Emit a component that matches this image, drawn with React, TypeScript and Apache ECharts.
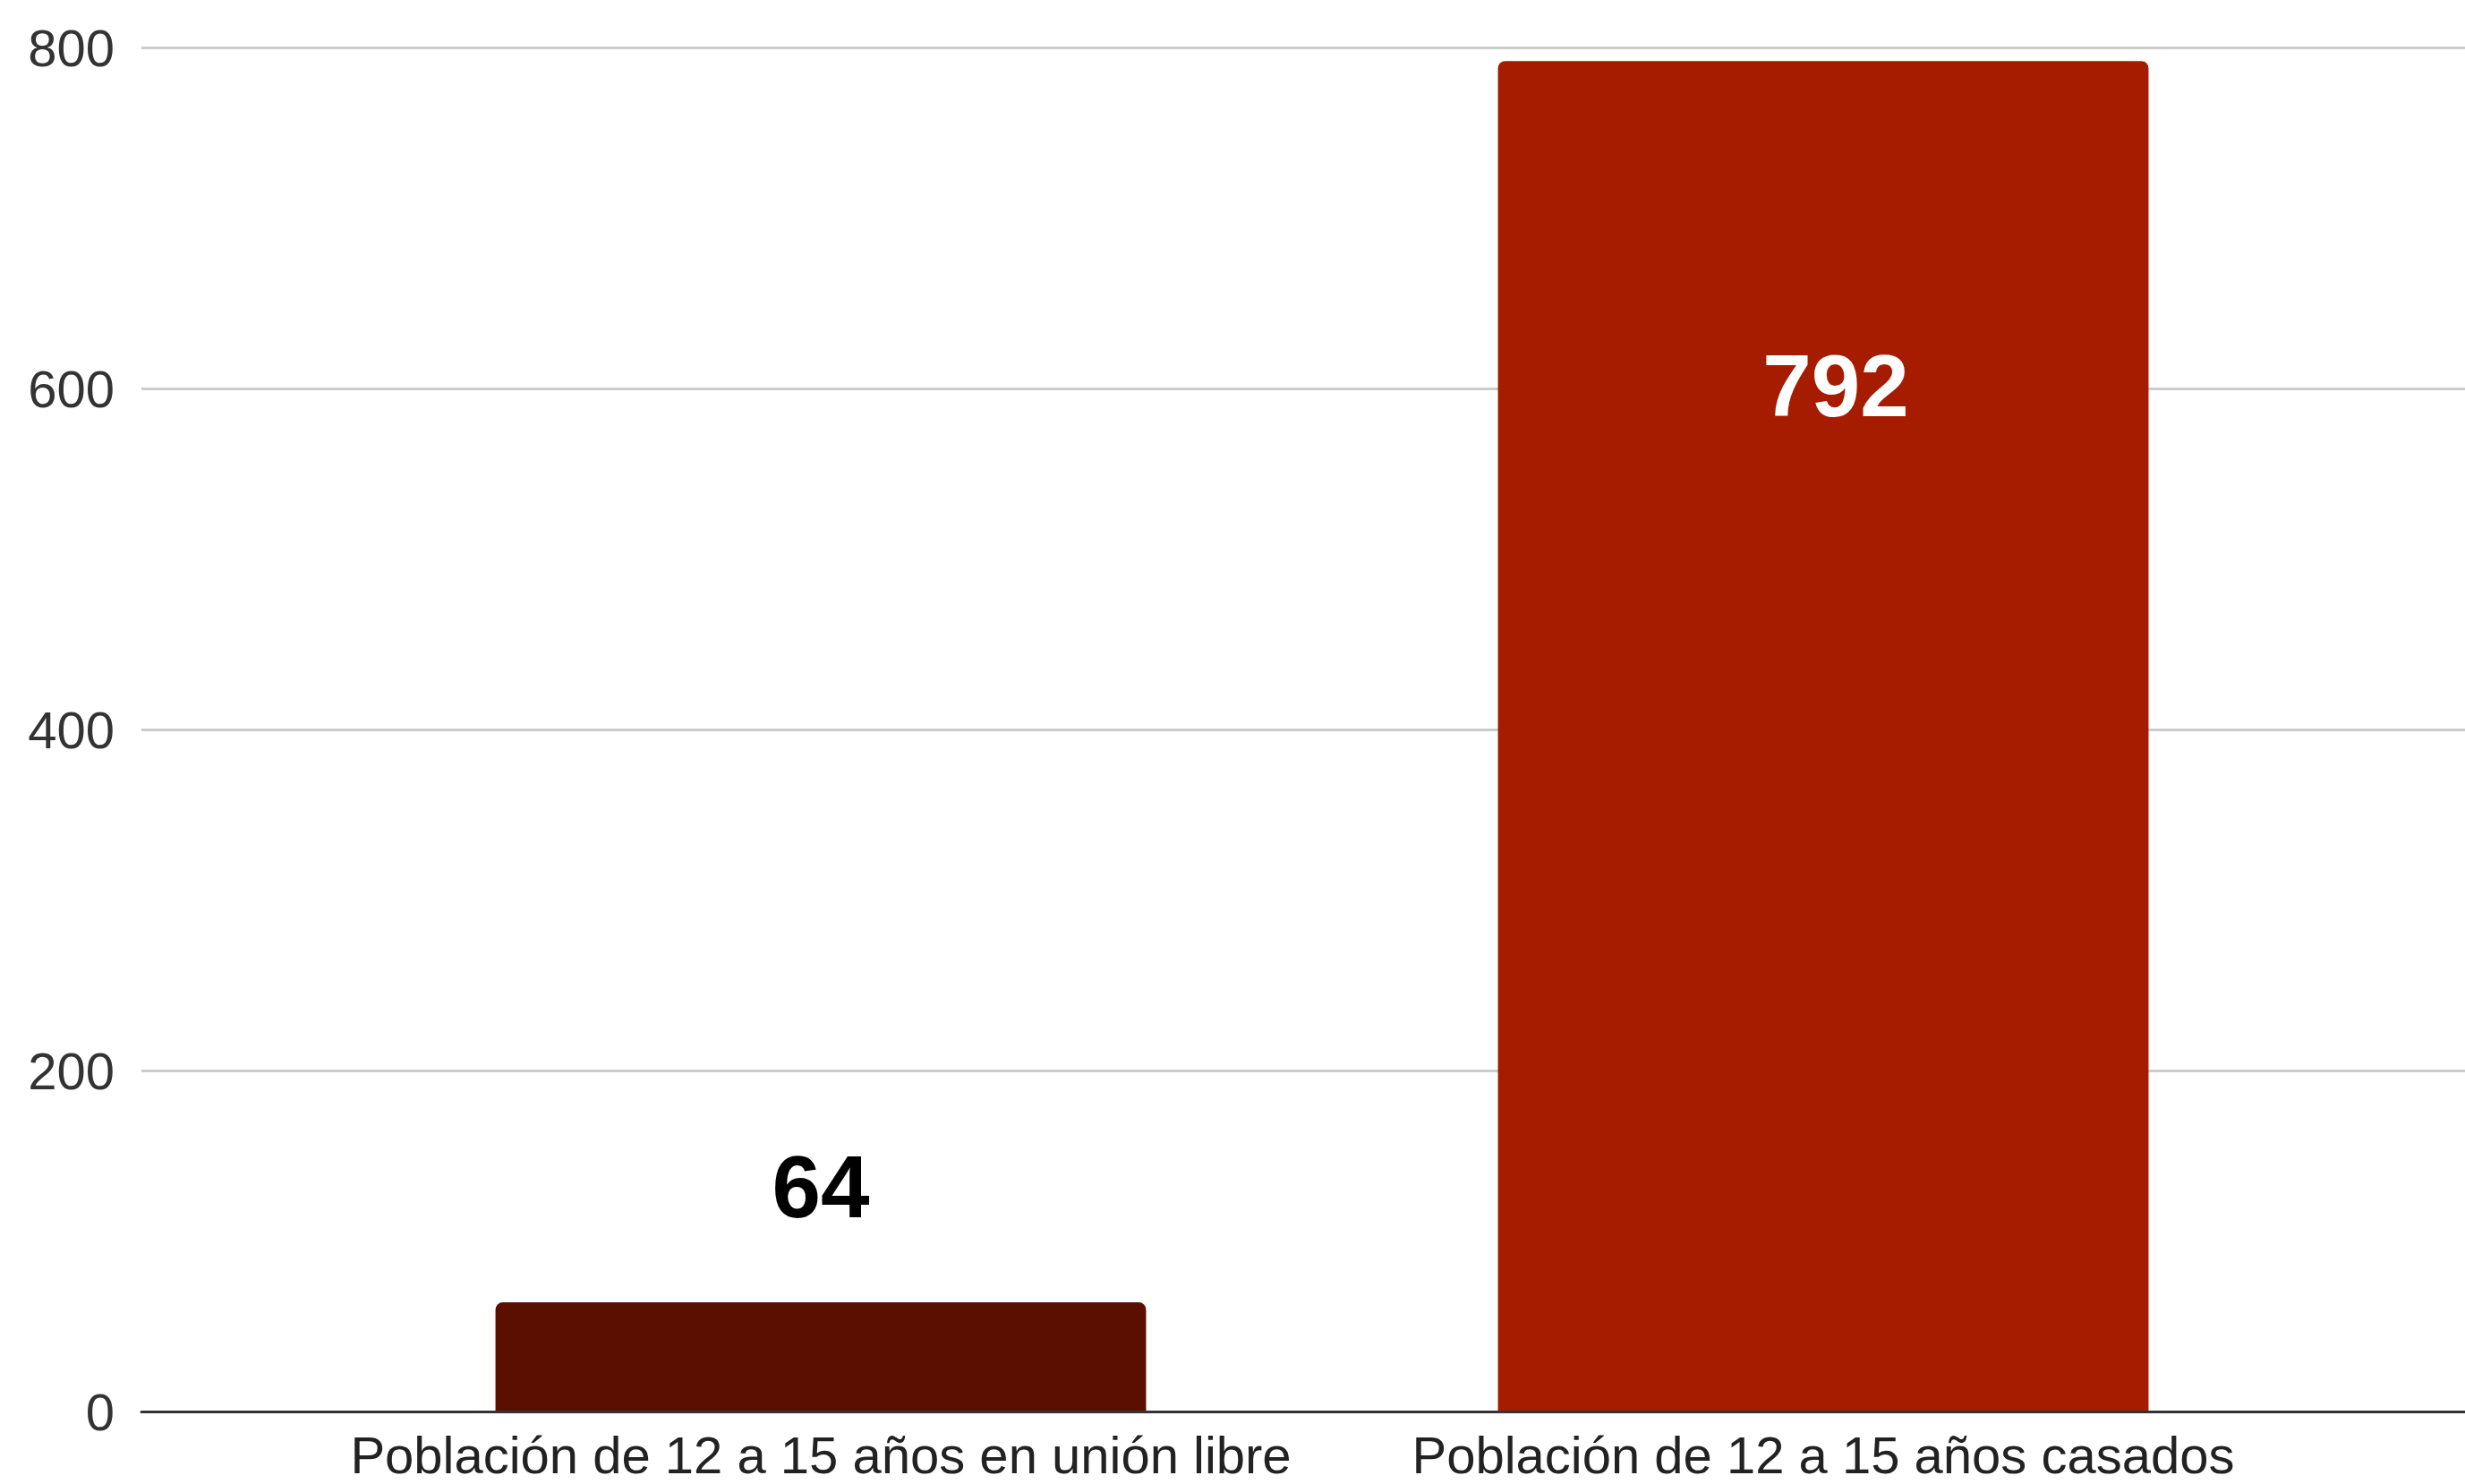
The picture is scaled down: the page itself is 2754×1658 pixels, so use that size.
import React, { useEffect, useRef } from "react";
import * as echarts from "echarts";

const categories = [
  "Población de 12 a 15 años en unión libre",
  "Población de 12 a 15 años casados",
];
const values = [64, 792];
const barColors = ["#5b0f00", "#a61c00"];
const labelColors = ["#000000", "#ffffff"];
const yMin = 0;
const yMax = 800;
const yInterval = 200;

const FONT = "'Liberation Sans', Arial, sans-serif";

export default function App() {
  const ref = useRef<HTMLDivElement>(null);

  useEffect(() => {
    document.body.style.margin = "0";
    const chart = echarts.init(ref.current!, null, { renderer: "svg" });

    const labelPositions: any[] = [
      { position: ["50%", -129], offset: [0, 0] },
      { position: ["50%", 363], offset: [14, 0] },
    ];

    const data = values.map((v, i) => ({
      value: v,
      itemStyle: { color: barColors[i], borderRadius: [8, 8, 0, 0] },
      label: {
        show: true,
        position: labelPositions[i].position,
        offset: labelPositions[i].offset,
        align: "center",
        verticalAlign: "middle",
        color: labelColors[i],
        fontSize: 98,
        fontWeight: "bold",
        fontFamily: FONT,
      },
    }));

    const grid = { top: 53, bottom: 81 };

    chart.setOption({
      animation: false,
      backgroundColor: "#ffffff",
      grid: [
        { ...grid, left: 158, right: 0 },
        { ...grid, left: 357, right: 157 },
      ],
      xAxis: [
        {
          gridIndex: 0,
          type: "category",
          data: categories,
          axisLine: { show: true, lineStyle: { color: "#333333", width: 3 } },
          axisTick: { show: false },
          axisLabel: { show: false },
          splitLine: { show: false },
          z: 5,
        },
        {
          gridIndex: 1,
          type: "category",
          data: categories,
          axisLine: { show: false },
          axisTick: { show: false },
          axisLabel: {
            show: true,
            interval: 0,
            margin: 25,
            fontSize: 58,
            lineHeight: 46,
            color: "#222222",
            fontFamily: FONT,
          },
          splitLine: { show: false },
        },
      ],
      yAxis: [
        {
          gridIndex: 0,
          type: "value",
          min: yMin,
          max: yMax,
          interval: yInterval,
          axisLine: { show: false },
          axisTick: { show: false },
          axisLabel: {
            margin: 30,
            fontSize: 58,
            color: "#333333",
            fontFamily: FONT,
          },
          splitLine: { show: true, lineStyle: { color: "#cccccc", width: 3 } },
        },
        {
          gridIndex: 1,
          type: "value",
          min: yMin,
          max: yMax,
          interval: yInterval,
          show: false,
          splitLine: { show: false },
        },
      ],
      series: [
        {
          type: "bar",
          xAxisIndex: 1,
          yAxisIndex: 1,
          barWidth: "64.9%",
          data,
          z: 3,
        },
      ],
    });

    return () => chart.dispose();
  }, []);

  return (
    <div
      ref={ref}
      style={{ position: "absolute", left: 0, top: 0, width: 2754, height: 1658 }}
    />
  );
}
